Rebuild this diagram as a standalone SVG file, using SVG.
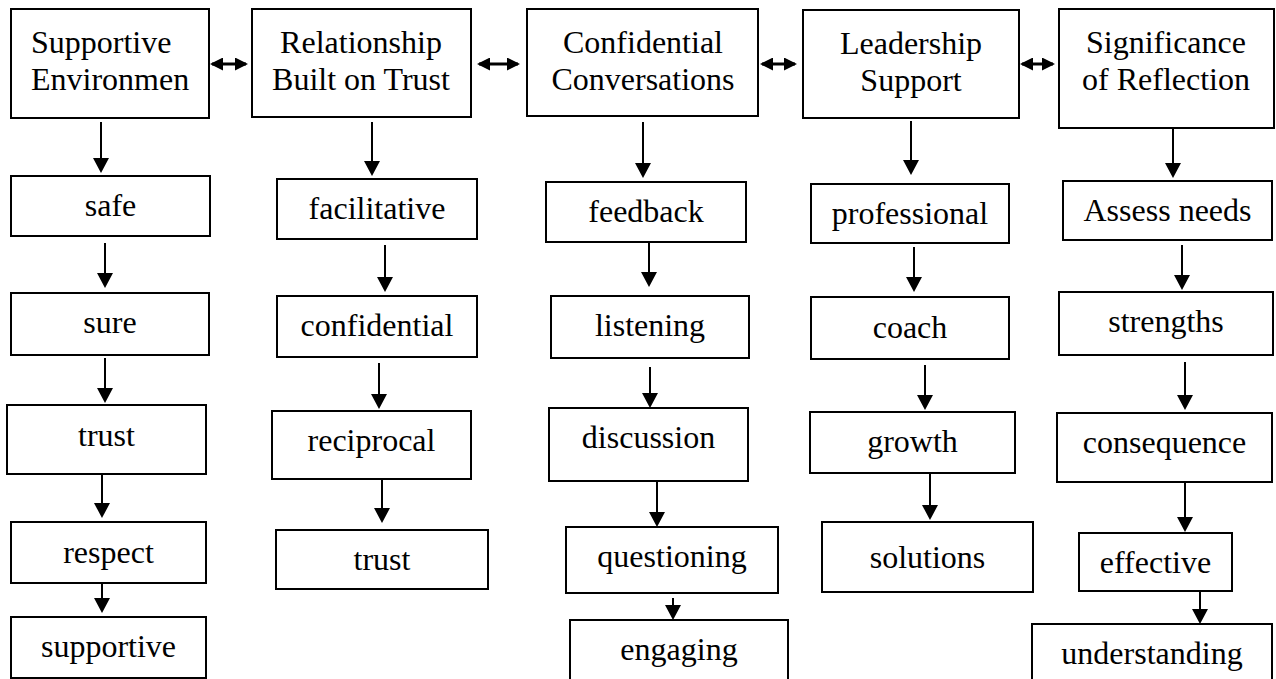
<svg xmlns="http://www.w3.org/2000/svg" width="1276" height="679" viewBox="0 0 1276 679">
<style>
.box{fill:#fff;stroke:#000;stroke-width:2}
.t{font-family:"Liberation Serif","Times New Roman",serif;font-size:32px;fill:#000;text-anchor:middle}
.ln{stroke:#000;stroke-width:2;fill:none;marker-end:url(#ah)}
.dl{stroke:#000;stroke-width:3;fill:none;marker-start:url(#dh);marker-end:url(#dh)}
</style>
<defs>
<marker id="ah" markerUnits="userSpaceOnUse" viewBox="0 0 15 16" markerWidth="15" markerHeight="16" refX="13" refY="8" orient="auto"><path d="M0,0L15,8L0,16z" fill="#000"/></marker>
<marker id="dh" markerUnits="userSpaceOnUse" viewBox="0 0 13 13" markerWidth="13" markerHeight="13" refX="11" refY="6.5" orient="auto-start-reverse"><path d="M0,0L13,6.5L0,13z" fill="#000"/></marker>
</defs>
<rect width="1276" height="679" fill="#fff"/>
<g id="connectors">
<line class="dl" x1="212" y1="64" x2="246" y2="64"/>
<line class="dl" x1="479" y1="64" x2="518" y2="64"/>
<line class="dl" x1="762" y1="64" x2="795" y2="64"/>
<line class="dl" x1="1022" y1="64" x2="1053" y2="64"/>
<line class="ln" x1="101" y1="122" x2="101" y2="171"/>
<line class="ln" x1="105" y1="243" x2="105" y2="286"/>
<line class="ln" x1="105" y1="358" x2="105" y2="401"/>
<line class="ln" x1="102" y1="474" x2="102" y2="516"/>
<line class="ln" x1="102" y1="583" x2="102" y2="611"/>
<line class="ln" x1="372" y1="122" x2="372" y2="174"/>
<line class="ln" x1="385" y1="245" x2="385" y2="290"/>
<line class="ln" x1="379" y1="363" x2="379" y2="407"/>
<line class="ln" x1="382" y1="479" x2="382" y2="521"/>
<line class="ln" x1="643" y1="122" x2="643" y2="176"/>
<line class="ln" x1="649" y1="242" x2="649" y2="285"/>
<line class="ln" x1="650" y1="367" x2="650" y2="406"/>
<line class="ln" x1="657" y1="481" x2="657" y2="525"/>
<line class="ln" x1="673" y1="598" x2="673" y2="618"/>
<line class="ln" x1="911" y1="121" x2="911" y2="173"/>
<line class="ln" x1="914" y1="247" x2="914" y2="290"/>
<line class="ln" x1="925" y1="365" x2="925" y2="408"/>
<line class="ln" x1="930" y1="473" x2="930" y2="518"/>
<line class="ln" x1="1173" y1="128" x2="1173" y2="176"/>
<line class="ln" x1="1182" y1="245" x2="1182" y2="288"/>
<line class="ln" x1="1185" y1="362" x2="1185" y2="408"/>
<line class="ln" x1="1185" y1="482" x2="1185" y2="530"/>
<line class="ln" x1="1200" y1="591" x2="1200" y2="622"/>
</g>
<g id="supportive-environment"><rect class="box" x="11" y="9" width="198" height="109"/><text class="t" x="31" y="53" style="text-anchor:start">Supportive</text><text class="t" x="31" y="90" style="text-anchor:start">Environmen</text></g>
<g id="safe"><rect class="box" x="11" y="176" width="199" height="60"/><text class="t" x="110.5" y="216">safe</text></g>
<g id="sure"><rect class="box" x="11" y="293" width="198" height="62"/><text class="t" x="110" y="333">sure</text></g>
<g id="trust1"><rect class="box" x="7" y="405" width="199" height="69"/><text class="t" x="106.5" y="446">trust</text></g>
<g id="respect"><rect class="box" x="11" y="522" width="195" height="61"/><text class="t" x="108.5" y="563">respect</text></g>
<g id="supportive"><rect class="box" x="11" y="617" width="195" height="61"/><text class="t" x="108.5" y="657">supportive</text></g>

<g id="relationship"><rect class="box" x="252" y="9" width="219" height="108"/><text class="t" x="361" y="53">Relationship</text><text class="t" x="361" y="90">Built on Trust</text></g>
<g id="facilitative"><rect class="box" x="277" y="179" width="200" height="60"/><text class="t" x="377" y="219">facilitative</text></g>
<g id="confidential"><rect class="box" x="277" y="296" width="200" height="61"/><text class="t" x="377" y="336">confidential</text></g>
<g id="reciprocal"><rect class="box" x="272" y="411" width="199" height="68"/><text class="t" x="371.5" y="451">reciprocal</text></g>
<g id="trust2"><rect class="box" x="276" y="530" width="212" height="59"/><text class="t" x="382" y="570">trust</text></g>

<g id="confidential-conversations"><rect class="box" x="527" y="9" width="231" height="107"/><text class="t" x="643" y="53">Confidential</text><text class="t" x="643" y="90">Conversations</text></g>
<g id="feedback"><rect class="box" x="546" y="182" width="200" height="60"/><text class="t" x="646" y="222">feedback</text></g>
<g id="listening"><rect class="box" x="551" y="296" width="198" height="62"/><text class="t" x="650" y="336">listening</text></g>
<g id="discussion"><rect class="box" x="549" y="408" width="199" height="73"/><text class="t" x="648.5" y="448">discussion</text></g>
<g id="questioning"><rect class="box" x="566" y="527" width="212" height="66"/><text class="t" x="672" y="567">questioning</text></g>
<g id="engaging"><rect class="box" x="570" y="620" width="218" height="62"/><text class="t" x="679" y="660">engaging</text></g>

<g id="leadership-support"><rect class="box" x="803" y="10" width="216" height="108"/><text class="t" x="911" y="54">Leadership</text><text class="t" x="911" y="91">Support</text></g>
<g id="professional"><rect class="box" x="811" y="184" width="198" height="59"/><text class="t" x="910" y="224">professional</text></g>
<g id="coach"><rect class="box" x="811" y="297" width="198" height="62"/><text class="t" x="910" y="338">coach</text></g>
<g id="growth"><rect class="box" x="810" y="412" width="205" height="61"/><text class="t" x="912.5" y="452">growth</text></g>
<g id="solutions"><rect class="box" x="822" y="522" width="211" height="70"/><text class="t" x="927.5" y="568">solutions</text></g>

<g id="significance-of-reflection"><rect class="box" x="1059" y="9" width="215" height="119"/><text class="t" x="1166" y="53">Significance</text><text class="t" x="1166" y="90">of Reflection</text></g>
<g id="assess-needs"><rect class="box" x="1063" y="181" width="209" height="59"/><text class="t" x="1167.5" y="221">Assess needs</text></g>
<g id="strengths"><rect class="box" x="1059" y="292" width="214" height="63"/><text class="t" x="1166" y="332">strengths</text></g>
<g id="consequence"><rect class="box" x="1057" y="413" width="215" height="69"/><text class="t" x="1164.5" y="453">consequence</text></g>
<g id="effective"><rect class="box" x="1079" y="533" width="153" height="58"/><text class="t" x="1155.5" y="573">effective</text></g>
<g id="understanding"><rect class="box" x="1032" y="624" width="240" height="58"/><text class="t" x="1152" y="664">understanding</text></g>
</svg>
